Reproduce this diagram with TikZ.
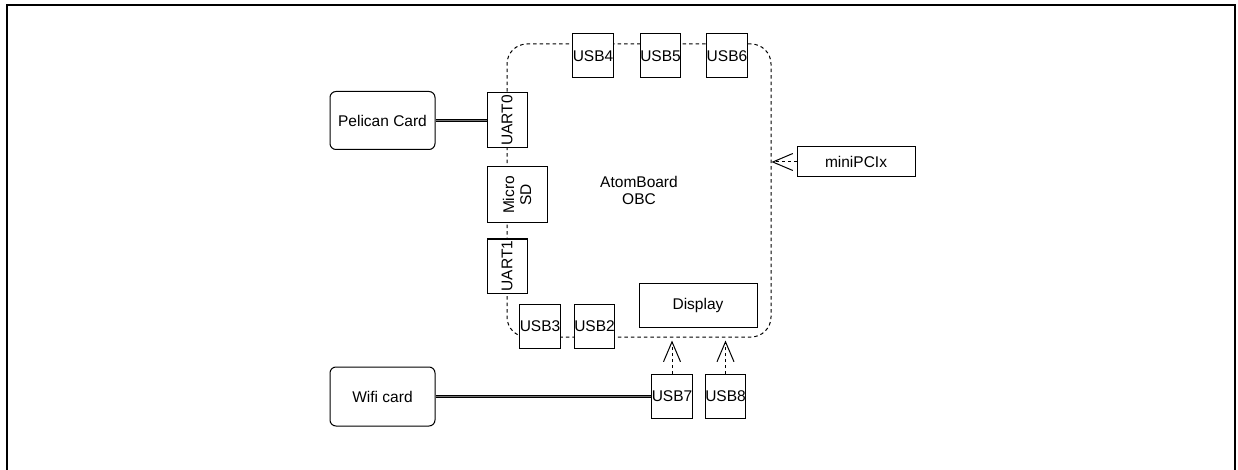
\documentclass[tikz,border=0pt]{standalone}
\usepackage{fontspec}
\setmainfont{Liberation Sans}
\usetikzlibrary{arrows.meta, positioning}

\begin{document}
\begin{tikzpicture}[
  x=1pt, y=-1pt,
  font=\fontsize{15.5}{17}\selectfont,
  node distance=25pt,
  port/.style={rectangle, draw, fill=white, line width=1pt,
               minimum width=40pt, minimum height=44pt, inner sep=0pt},
  vport/.style={port, rotate=90, minimum height=40pt, align=center},
  card/.style={rectangle, rounded corners=6pt, draw, fill=white, line width=1pt,
               minimum width=105pt, minimum height=58pt},
  board/.style={rectangle, rounded corners=20pt, draw, dash pattern=on 3.5pt off 3pt,
                line width=1pt, minimum width=264pt, minimum height=293pt, align=center},
  link/.style={double=black!55, double distance=1.2pt, line width=1.2pt},
  dep/.style={dash pattern=on 3pt off 3pt, line width=1pt,
              -{Straight Barb[length=20pt, width=17pt]}}
]
  \useasboundingbox (0,0) rectangle (1238,470);
  \draw[line width=2pt] (7,470) -- (7,5) -- (1235,5) -- (1235,470);

  % the board and its ports
  \node[board] (obc) at (639,190.5) {AtomBoard\\OBC};

  \node[port] (usbfour) at (593,56) {USB4};
  \node[port, right=26pt of usbfour] (usbfive) {USB5};
  \node[port, right=of usbfive] (usbsix) {USB6};

  \node[vport, minimum width=55pt] (uartzero) at (507,120.5) {UART0};
  \node[vport, minimum width=56pt, minimum height=60pt] (microsd) at (517,195) {Micro\\SD};
  \node[vport, minimum width=54pt] (uartone) at (507,266) {UART1};

  \node[port] (usbthree) at (540,326.5) {USB3};
  \node[port, right=13pt of usbthree] (usbtwo) {USB2};

  \node[rectangle, draw, fill=white, line width=1pt, minimum width=118pt,
        minimum height=44pt] (display) at (698,305) {Display};

  % external parts
  \node[card] (pelican) at (382.5,120.5) {Pelican Card};
  \node[card, minimum height=59pt] (wifi) at (382.5,396.5) {Wifi card};

  \node[port] (usbseven) at (672,396.5) {USB7};
  \node[port, right=12pt of usbseven] (usbeight) {USB8};

  \node[rectangle, draw, fill=white, line width=1pt, minimum width=118pt,
        minimum height=30pt] (minipci) at (856,162) {miniPCIx};

  \draw[link] (pelican) -- (uartzero);
  \draw[link] (wifi) -- (usbseven);

  \draw[dep] (usbseven.north) -- ([yshift=-3pt]usbseven.north |- obc.south);
  \draw[dep] (usbeight.north) -- ([yshift=-3pt]usbeight.north |- obc.south);
  \draw[dep] (minipci.west) -- (minipci.west -| obc.east);

\end{tikzpicture}
\end{document}
